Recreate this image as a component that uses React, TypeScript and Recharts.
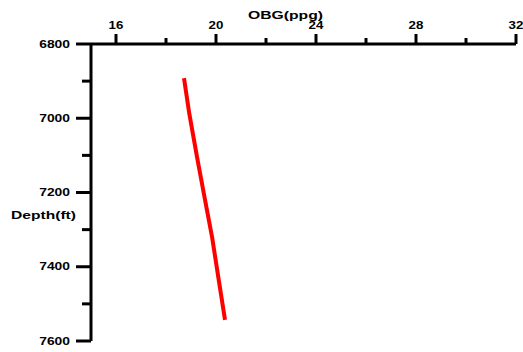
import React from 'react';
import { LineChart, Line, XAxis, YAxis, Label } from 'recharts';

const depthFt = [6892, 6987, 7104, 7216, 7323, 7440, 7543];
const obgPpg = [18.72, 18.93, 19.24, 19.55, 19.85, 20.12, 20.36];

const xTicks = [16, 18, 20, 22, 24, 26, 28, 30, 32];
const xLabeledTicks = [16, 20, 24, 28, 32];
const yTicks = [6800, 6900, 7000, 7100, 7200, 7300, 7400, 7500, 7600];
const yLabeledTicks = [6800, 7000, 7200, 7400, 7600];

const xTitle = 'OBG(ppg)';
const yTitle = 'Depth(ft)';

const data = depthFt.map((d, i) => ({ depth: d, obg: obgPpg[i] }));

const FONT = '"Liberation Sans", Arial, Helvetica, sans-serif';

const XTick = (props: any) => {
  const { x, y, payload } = props;
  const major = xLabeledTicks.includes(payload.value);
  const label = String(payload.value);
  return (
    <g>
      <line x1={x} x2={x} y1={y} y2={y - (major ? 10 : 6)} stroke="#000" strokeWidth={3} />
      {major && (
        <text
          x={x}
          y={y - 15.5}
          textAnchor="middle"
          fontFamily={FONT}
          fontWeight="bold"
          fontSize={10}
          fill="#000"
          textLength={label.length * 7.4}
          lengthAdjust="spacingAndGlyphs"
        >
          {label}
        </text>
      )}
    </g>
  );
};

const YTick = (props: any) => {
  const { x, y, payload } = props;
  const major = yLabeledTicks.includes(payload.value);
  const label = String(payload.value);
  return (
    <g>
      <line x1={x} x2={x - (major ? 15 : 9)} y1={y} y2={y} stroke="#000" strokeWidth={3} />
      {major && (
        <text
          x={x - 21}
          y={y + 3.6}
          textAnchor="end"
          fontFamily={FONT}
          fontWeight="bold"
          fontSize={10}
          fill="#000"
          textLength={label.length * 7.7}
          lengthAdjust="spacingAndGlyphs"
        >
          {label}
        </text>
      )}
    </g>
  );
};

const XTitle = (props: any) => {
  const vb = props.viewBox || { x: 91, y: 0, width: 425, height: 44 };
  const cx = vb.x + vb.width / 2 - 18;
  return (
    <text
      x={cx}
      y={vb.y + 18.5}
      textAnchor="middle"
      fontFamily={FONT}
      fontWeight="bold"
      fontSize={11}
      fill="#000"
      textLength={75}
      lengthAdjust="spacingAndGlyphs"
    >
      {xTitle}
    </text>
  );
};

const YTitle = (props: any) => {
  const vb = props.viewBox || { x: 0, y: 44, width: 91, height: 297 };
  return (
    <text
      x={43.5}
      y={vb.y + vb.height / 2 + 26.5}
      textAnchor="middle"
      fontFamily={FONT}
      fontWeight="bold"
      fontSize={11}
      fill="#000"
      textLength={65}
      lengthAdjust="spacingAndGlyphs"
    >
      {yTitle}
    </text>
  );
};

export default function App() {
  return (
    <div style={{ position: 'absolute', left: 0, top: 0, width: 523, height: 352, background: '#fff' }}>
      <LineChart
        width={523}
        height={352}
        data={data}
        layout="vertical"
        margin={{ top: 0, right: 7, bottom: 11, left: 0 }}
      >
        <XAxis
          type="number"
          dataKey="obg"
          orientation="top"
          domain={[15, 32]}
          ticks={xTicks}
          interval={0}
          height={44}
          tickSize={0}
          tickMargin={0}
          tickLine={false}
          axisLine={{ stroke: '#000', strokeWidth: 3 }}
          tick={<XTick />}
          allowDataOverflow
        >
          <Label content={<XTitle />} />
        </XAxis>
        <YAxis
          type="number"
          dataKey="depth"
          domain={[6800, 7600]}
          ticks={yTicks}
          interval={0}
          width={91}
          tickSize={0}
          tickMargin={0}
          tickLine={false}
          axisLine={{ stroke: '#000', strokeWidth: 3 }}
          tick={<YTick />}
          allowDataOverflow
        >
          <Label content={<YTitle />} />
        </YAxis>
        <Line
          dataKey="obg"
          type="linear"
          stroke="#ff0000"
          strokeWidth={4}
          dot={false}
          isAnimationActive={false}
        />
      </LineChart>
    </div>
  );
}
